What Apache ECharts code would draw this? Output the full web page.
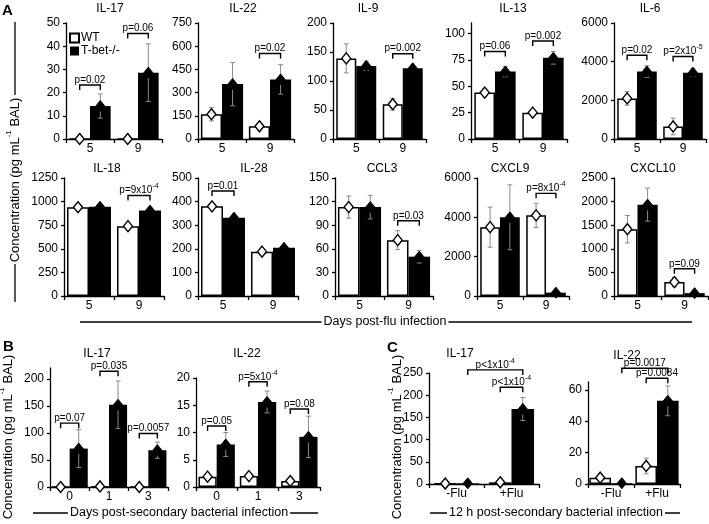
<!DOCTYPE html>
<html><head><meta charset="utf-8">
<script src="https://cdn.jsdelivr.net/npm/echarts@6/dist/echarts.min.js"></script>
<style>html,body{margin:0;padding:0;background:#fff}#c{width:709px;height:524px}</style>
</head><body><div id="c"></div>
<script>
// ---------- data ----------
const daysFlu = ['5', '9'];
const daysBact = ['0', '1', '3'];
const fluGroups = ['-Flu', '+Flu'];

// bracket format: [cat1, y, side1, cat2, side2]  (side 0 = WT, 1 = T-bet-/-)
const aIL17_wt = [0, 0], aIL17_wtErr = [0, 0], aIL17_tb = [14.2, 28.6], aIL17_tbErr = [5.2, 12.4];
const aIL17_brk = [[0, 23.3, 0, 0, 1], [1, 45.5, 0, 1, 1]], aIL17_txt = ['p=0.02', 'p=0.06'];
const aIL22_wt = [160, 82], aIL22_wtErr = [43, 0], aIL22_tb = [355, 385], aIL22_tbErr = [140, 95];
const aIL22_brk = [[1, 553, 0, 1, 1]], aIL22_txt = ['p=0.02'];
const aIL9_wt = [139, 60], aIL9_wtErr = [25, 10], aIL9_tb = [126, 122], aIL9_tbErr = [8, 3];
const aIL9_brk = [[1, 147, 0, 1, 1]], aIL9_txt = ['p=0.002'];
const aIL13_wt = [44, 25], aIL13_wtErr = [4, 0], aIL13_tb = [64, 77], aIL13_tbErr = [5, 6];
const aIL13_brk = [[0, 83, 0, 0, 1], [1, 93, 0, 1, 1]], aIL13_txt = ['p=0.06', 'p=0.002'];
const aIL6_wt = [2100, 650], aIL6_wtErr = [350, 430], aIL6_tb = [3490, 3430], aIL6_tbErr = [300, 200];
const aIL6_brk = [[0, 4330, 0, 0, 1], [1, 4270, 0, 1, 1]], aIL6_txt = ['p=0.02', 'p=2x10{s|-5}'];

const aIL18_wt = [940, 740], aIL18_wtErr = [0, 0], aIL18_tb = [945, 905], aIL18_tbErr = [0, 0];
const aIL18_brk = [[1, 1065, 0, 1, 1]], aIL18_txt = ['p=9x10{s|-4}'];
const aIL28_wt = [380, 188], aIL28_wtErr = [0, 0], aIL28_tb = [332, 204], aIL28_tbErr = [0, 0];
const aIL28_brk = [[0, 445, 0, 0, 1]], aIL28_txt = ['p=0.01'];
const aCCL3_wt = [113, 71], aCCL3_wtErr = [14, 12], aCCL3_tb = [113, 50], aCCL3_tbErr = [15, 8];
const aCCL3_brk = [[1, 95.6, 0, 1, 1]], aCCL3_txt = ['p=0.03'];
const aCXCL9_wt = [3500, 4100], aCXCL9_wtErr = [1020, 620], aCXCL9_tb = [4000, 170], aCXCL9_tbErr = [1650, 0];
const aCXCL9_brk = [[1, 5220, 0, 1, 1]], aCXCL9_txt = ['p=8x10{s|-4}'];
const aCXCL10_wt = [1415, 295], aCXCL10_wtErr = [290, 100], aCXCL10_tb = [1935, 60], aCXCL10_tbErr = [350, 0];
const aCXCL10_brk = [[1, 577, 0, 1, 1]], aCXCL10_txt = ['p=0.09'];

const bIL17_wt = [0, 1, 0], bIL17_wtErr = [0, 0, 0], bIL17_tb = [71, 152, 68], bIL17_tbErr = [35, 44, 15];
const bIL17_brk = [[0, 118, 0, 0, 1], [1, 214, 0, 1, 1], [2, 99, 0, 2, 1]], bIL17_txt = ['p=0.07', 'p=0.035', 'p=0.0057'];
const bIL22_wt = [1.9, 2.0, 1.1], bIL22_wtErr = [0, 0, 0], bIL22_tb = [7.8, 15.6, 9.2], bIL22_tbErr = [2.2, 2.0, 3.8];
const bIL22_brk = [[0, 11.2, 0, 0, 1], [1, 19.3, 0, 1, 1], [2, 14.3, 0, 2, 1]], bIL22_txt = ['p=0.05', 'p=5x10{s|-4}', 'p=0.08'];

const cIL17_wt = [1, 3.8], cIL17_wtErr = [0, 0], cIL17_tb = [1.5, 169], cIL17_tbErr = [0, 26];
const cIL17_brk = [[0, 257, 1, 1, 1], [1, 218, 0, 1, 1]], cIL17_txt = ['p<1x10{s|-4}', 'p<1x10{s|-4}'];
const cIL22_wt = [4, 11.5], cIL22_wtErr = [0, 5], cIL22_tb = [0.5, 53], cIL22_tbErr = [0, 9.5];
const cIL22_brk = [[0, 73.8, 1, 1, 1], [1, 67.4, 0, 1, 1]], cIL22_txt = ['p=0.0017', 'p=0.0084'];

// ---------- layout ----------
const F = '"Liberation Sans", Arial, sans-serif';
const panels = [
  {title: 'IL-17', cats: daysFlu, wt: aIL17_wt, wtE: aIL17_wtErr, tb: aIL17_tb, tbE: aIL17_tbErr, brk: aIL17_brk, txt: aIL17_txt, max: 50, step: 10, g: [66, 23, 96, 116], gap: 0.14, tx: 110, ty: 3},
  {title: 'IL-22', cats: daysFlu, wt: aIL22_wt, wtE: aIL22_wtErr, tb: aIL22_tb, tbE: aIL22_tbErr, brk: aIL22_brk, txt: aIL22_txt, max: 750, step: 150, g: [198, 23, 96, 116], gap: 0.12, tx: 243, ty: 3},
  {title: 'IL-9', cats: daysFlu, wt: aIL9_wt, wtE: aIL9_wtErr, tb: aIL9_tb, tbE: aIL9_tbErr, brk: aIL9_brk, txt: aIL9_txt, max: 200, step: 50, g: [333, 23, 93, 116], gap: 0.14, tx: 368, ty: 3},
  {title: 'IL-13', cats: daysFlu, wt: aIL13_wt, wtE: aIL13_wtErr, tb: aIL13_tb, tbE: aIL13_tbErr, brk: aIL13_brk, txt: aIL13_txt, max: 110, step: 25, g: [471, 23, 96, 116], gap: 0.14, tx: 513, ty: 3},
  {title: 'IL-6', cats: daysFlu, wt: aIL6_wt, wtE: aIL6_wtErr, tb: aIL6_tb, tbE: aIL6_tbErr, brk: aIL6_brk, txt: aIL6_txt, max: 6000, step: 2000, g: [614, 23, 92, 116], gap: 0.14, tx: 650, ty: 3},

  {title: 'IL-18', cats: daysFlu, wt: aIL18_wt, wtE: aIL18_wtErr, tb: aIL18_tb, tbE: aIL18_tbErr, brk: aIL18_brk, txt: aIL18_txt, max: 1250, step: 250, g: [64, 178, 100, 118], gap: 0.12, tx: 107, ty: 163},
  {title: 'IL-28', cats: daysFlu, wt: aIL28_wt, wtE: aIL28_wtErr, tb: aIL28_tb, tbE: aIL28_tbErr, brk: aIL28_brk, txt: aIL28_txt, max: 500, step: 100, g: [198, 178, 100, 118], gap: 0.12, tx: 254, ty: 163},
  {title: 'CCL3', cats: daysFlu, wt: aCCL3_wt, wtE: aCCL3_wtErr, tb: aCCL3_tb, tbE: aCCL3_tbErr, brk: aCCL3_brk, txt: aCCL3_txt, max: 150, step: 30, g: [335, 178, 98, 118], gap: 0.12, tx: 382, ty: 163},
  {title: 'CXCL9', cats: daysFlu, wt: aCXCL9_wt, wtE: aCXCL9_wtErr, tb: aCXCL9_tb, tbE: aCXCL9_tbErr, brk: aCXCL9_brk, txt: aCXCL9_txt, max: 6000, step: 2000, g: [477, 178, 92, 118], gap: 0.14, tx: 510, ty: 163},
  {title: 'CXCL10', cats: daysFlu, wt: aCXCL10_wt, wtE: aCXCL10_wtErr, tb: aCXCL10_tb, tbE: aCXCL10_tbErr, brk: aCXCL10_brk, txt: aCXCL10_txt, max: 2500, step: 500, g: [614, 178, 94, 118], gap: 0.14, tx: 653, ty: 163},

  {title: 'IL-17', cats: daysBact, wt: bIL17_wt, wtE: bIL17_wtErr, tb: bIL17_tb, tbE: bIL17_tbErr, brk: bIL17_brk, txt: bIL17_txt, max: 220, step: 50, g: [50, 368, 118, 119], gap: 0.08, tx: 97, ty: 348},
  {title: 'IL-22', cats: daysBact, wt: bIL22_wt, wtE: bIL22_wtErr, tb: bIL22_tb, tbE: bIL22_tbErr, brk: bIL22_brk, txt: bIL22_txt, max: 20, step: 5, g: [196, 378, 124, 109], gap: 0.12, tx: 247, ty: 348},

  {title: 'IL-17', cats: fluGroups, wt: cIL17_wt, wtE: cIL17_wtErr, tb: cIL17_tb, tbE: cIL17_tbErr, brk: cIL17_brk, txt: cIL17_txt, max: 250, step: 50, g: [429, 373, 110, 111], gap: 0.18, tx: 460, ty: 348},
  {title: 'IL-22', cats: fluGroups, wt: cIL22_wt, wtE: cIL22_wtErr, tb: cIL22_tb, tbE: cIL22_tbErr, brk: cIL22_brk, txt: cIL22_txt, max: 65, step: 20, g: [588, 382, 92, 102], gap: 0.06, tx: 627, ty: 350}
];

const supRich = (fs) => ({s: {fontSize: fs, lineHeight: fs, verticalAlign: 'top', fontFamily: F, fill: '#000'}});

const option = {
  animation: false,
  textStyle: {fontFamily: F},
  legend: {
    data: ['WT', 'T-bet-/-'], orient: 'vertical', left: 69, top: 32, padding: 0, itemWidth: 9, itemHeight: 9, itemGap: 1,
    icon: 'rect', textStyle: {fontSize: 12, color: '#000', fontFamily: F, padding: [0, 0, 0, -3]}
  },
  title: [], grid: [], xAxis: [], yAxis: [], series: [], graphic: []
};

panels.forEach((p, i) => {
  option.title.push({text: p.title, left: p.tx, top: p.ty, textAlign: 'center', padding: 0,
    textStyle: {fontSize: 12, fontWeight: 'normal', color: '#000', fontFamily: F}});
  option.grid.push({left: p.g[0], top: p.g[1], width: p.g[2], height: p.g[3]});
  option.xAxis.push({type: 'category', gridIndex: i, data: p.cats,
    axisLine: {lineStyle: {color: '#000', width: 1.3}},
    axisTick: {show: true, length: 4, lineStyle: {color: '#000', width: 1.3}},
    axisLabel: {fontSize: 12, color: '#000', margin: 4, fontFamily: F}});
  option.yAxis.push({type: 'value', gridIndex: i, min: 0, max: p.max, interval: p.step,
    axisLine: {show: true, lineStyle: {color: '#000', width: 1.3}},
    axisTick: {show: true, length: 3, lineStyle: {color: '#000', width: 1.3}},
    splitLine: {show: false},
    axisLabel: {fontSize: 12, color: '#000', margin: 6, fontFamily: F, showMaxLabel: p.max % p.step === 0,
      formatter: (v) => String(v)}});
  const gap = p.gap;
  option.series.push({type: 'bar', name: 'WT', xAxisIndex: i, yAxisIndex: i, data: p.wt,
    barGap: '0%', barCategoryGap: (gap * 100) + '%',
    itemStyle: {color: '#fff', borderColor: '#000', borderWidth: 1.5}});
  option.series.push({type: 'bar', name: 'T-bet-/-', xAxisIndex: i, yAxisIndex: i, data: p.tb,
    barGap: '0%', barCategoryGap: (gap * 100) + '%',
    itemStyle: {color: '#000', borderColor: '#000', borderWidth: 0}});

  const marks = [];
  p.cats.forEach((c, k) => {
    marks.push([k, p.wt[k], p.wtE[k], 0]);
    marks.push([k, p.tb[k], p.tbE[k], 1]);
  });
  const off = (api, side) => {
    const bw = api.size([1, 0])[0];
    const barW = bw * (1 - gap) / 2;
    return side === 0 ? -barW / 2 : barW / 2;
  };
  option.series.push({type: 'custom', xAxisIndex: i, yAxisIndex: i, data: marks, z: 5,
    encode: {x: 0, y: 1},
    renderItem: (params, api) => {
      const cat = api.value(0), v = api.value(1), e = api.value(2), side = api.value(3);
      const pt = api.coord([cat, v]);
      const x = pt[0] + off(api, side), y = pt[1];
      const children = [];
      if (e > 0) {
        const yh = api.coord([cat, v + e])[1];
        const yl = api.coord([cat, Math.max(0, v - e)])[1];
        const st = {stroke: '#8a8a8a', lineWidth: 1};
        children.push({type: 'line', shape: {x1: x, y1: yh, x2: x, y2: yl}, style: st});
        children.push({type: 'line', shape: {x1: x - 2.5, y1: yh, x2: x + 2.5, y2: yh}, style: st});
        children.push({type: 'line', shape: {x1: x - 2.5, y1: yl, x2: x + 2.5, y2: yl}, style: st});
      }
      const w = 4.5, h = 5.5;
      children.push({type: 'polygon', shape: {points: [[x, y - h], [x + w, y], [x, y + h], [x - w, y]]},
        style: side === 0 ? {fill: '#fff', stroke: '#000', lineWidth: 1.4} : {fill: '#000', stroke: '#000', lineWidth: 1}});
      return {type: 'group', children};
    }});

  const txt = p.txt;
  option.series.push({type: 'custom', xAxisIndex: i, yAxisIndex: i, data: p.brk, z: 6, clip: false,
    encode: {x: 0, y: 1},
    renderItem: (params, api) => {
      const c1 = api.value(0), yv = api.value(1), s1 = api.value(2), c2 = api.value(3), s2 = api.value(4);
      const y = api.coord([c1, yv])[1];
      const x1 = api.coord([c1, yv])[0] + off(api, s1);
      const x2 = api.coord([c2, yv])[0] + off(api, s2);
      return {type: 'group', children: [
        {type: 'polyline', shape: {points: [[x1, y + 5], [x1, y], [x2, y], [x2, y + 5]]},
          style: {stroke: '#000', lineWidth: 1.4, fill: null}},
        {type: 'text', x: (x1 + x2) / 2, y: y - 5,
          style: {text: txt[params.dataIndex], fill: '#000', fontSize: 10, fontFamily: F, lineHeight: 15,
            align: 'center', verticalAlign: 'middle', textAlign: 'center', textVerticalAlign: 'middle', rich: supRich(7)}}
      ]};
    }});
});

// decorations: panel letters, axis titles
const lineSt = {stroke: '#000', lineWidth: 1.3};
const txtSt = (t, fs, extra) => Object.assign({text: t, fill: '#000', fontSize: fs, fontFamily: F,
  align: 'center', verticalAlign: 'middle', textAlign: 'center', textVerticalAlign: 'middle'}, extra || {});
const yTitle = 'Concentration (pg mL{s|-1} BAL)';
option.graphic = [
  {type: 'text', left: 2, top: 3, style: {text: 'A', fontSize: 15, fontWeight: 'bold', fill: '#000', fontFamily: F}},
  {type: 'text', left: 3, top: 339, style: {text: 'B', fontSize: 15, fontWeight: 'bold', fill: '#000', fontFamily: F}},
  {type: 'text', left: 387, top: 340, style: {text: 'C', fontSize: 15, fontWeight: 'bold', fill: '#000', fontFamily: F}},
  {type: 'line', shape: {x1: 15, y1: 22, x2: 15, y2: 95}, style: lineSt},
  {type: 'line', shape: {x1: 15, y1: 264, x2: 15, y2: 302}, style: lineSt},
  {type: 'text', x: 15, y: 180, rotation: Math.PI / 2, style: txtSt(yTitle, 13, {lineHeight: 20, rich: supRich(8)})},
  {type: 'text', x: 8, y: 437, rotation: Math.PI / 2, style: txtSt(yTitle, 13, {lineHeight: 20, rich: supRich(8)})},
  {type: 'text', x: 397, y: 437, rotation: Math.PI / 2, style: txtSt(yTitle, 13, {lineHeight: 20, rich: supRich(8)})},
  {type: 'line', shape: {x1: 80, y1: 322, x2: 692, y2: 322}, style: lineSt},
  {type: 'text', x: 385, y: 322, style: txtSt('Days post-flu infection', 12.5, {backgroundColor: '#fff', padding: [0, 2]})},
  {type: 'line', shape: {x1: 33, y1: 513, x2: 318, y2: 513}, style: lineSt},
  {type: 'text', x: 179, y: 513, style: txtSt('Days post-secondary bacterial infection', 12.5, {backgroundColor: '#fff', padding: [0, 2]})},
  {type: 'line', shape: {x1: 430, y1: 513, x2: 680, y2: 513}, style: lineSt},
  {type: 'text', x: 556, y: 513, style: txtSt('12 h post-secondary bacterial infection', 12.5, {backgroundColor: '#fff', padding: [0, 2]})}
];

const chart = echarts.init(document.getElementById('c'), null, {renderer: 'canvas'});
chart.setOption(option);
</script>
</body></html>
